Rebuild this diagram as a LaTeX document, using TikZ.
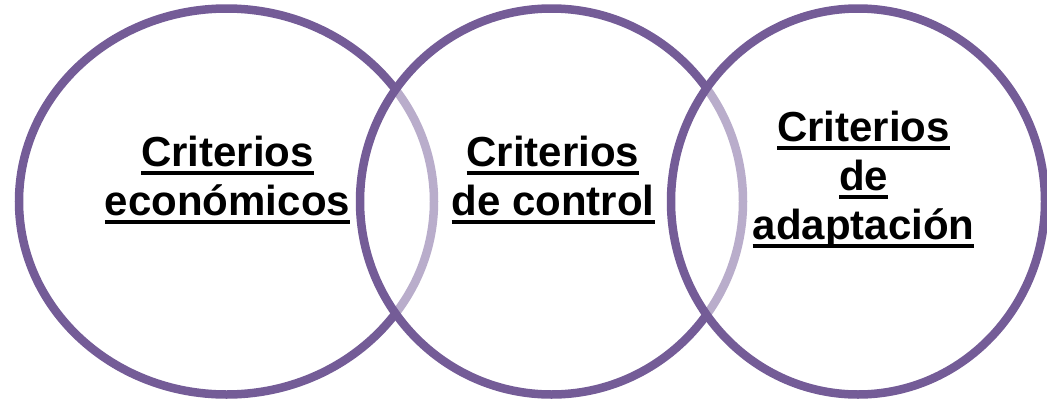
\documentclass[tikz,border=0pt]{standalone}
\usepackage{fontspec}
\setmainfont{Liberation Sans}
\usepackage{tikz}
\definecolor{vennpurple}{RGB}{116,92,151}
\newcommand{\critline}[1]{\setbox0=\hbox{#1}\rlap{\vrule height -4pt depth 8pt width \wd0}\box0}

\begin{document}
\begin{tikzpicture}[
    ring/.style={draw=vennpurple, line width=8.5pt, fill=white, fill opacity=0.5},
    crittext/.style={align=center, inner sep=0pt, text=black,
                     font=\fontsize{42}{49}\selectfont\bfseries}
  ]
    \useasboundingbox (0pt,0pt) rectangle (1047pt,-402pt);
    \coordinate (eco)   at (226.5pt,-201.5pt);
    \coordinate (ctrl)  at (551.5pt,-201.5pt);
    \coordinate (adapt) at (858pt,  -201.5pt);
    % circles, later ones lighten the arcs beneath them
    \draw[ring] (eco)   ellipse [x radius=207.5pt, y radius=193pt];
    \draw[ring] (ctrl)  ellipse [x radius=191.5pt, y radius=193pt];
    \draw[ring] (adapt) ellipse [x radius=187pt,   y radius=193pt];
    \node[crittext] (ecotext)   at (227.5pt,-180pt) {\critline{Criterios}\\\critline{económicos}};
    \node[crittext] (ctrltext)  at (553pt,  -180pt) {\critline{Criterios}\\\critline{de control}};
    \node[crittext] (adapttext) at (863.5pt,-180pt) {\critline{Criterios}\\\critline{de}\\\critline{adaptación}};
\end{tikzpicture}
\end{document}
